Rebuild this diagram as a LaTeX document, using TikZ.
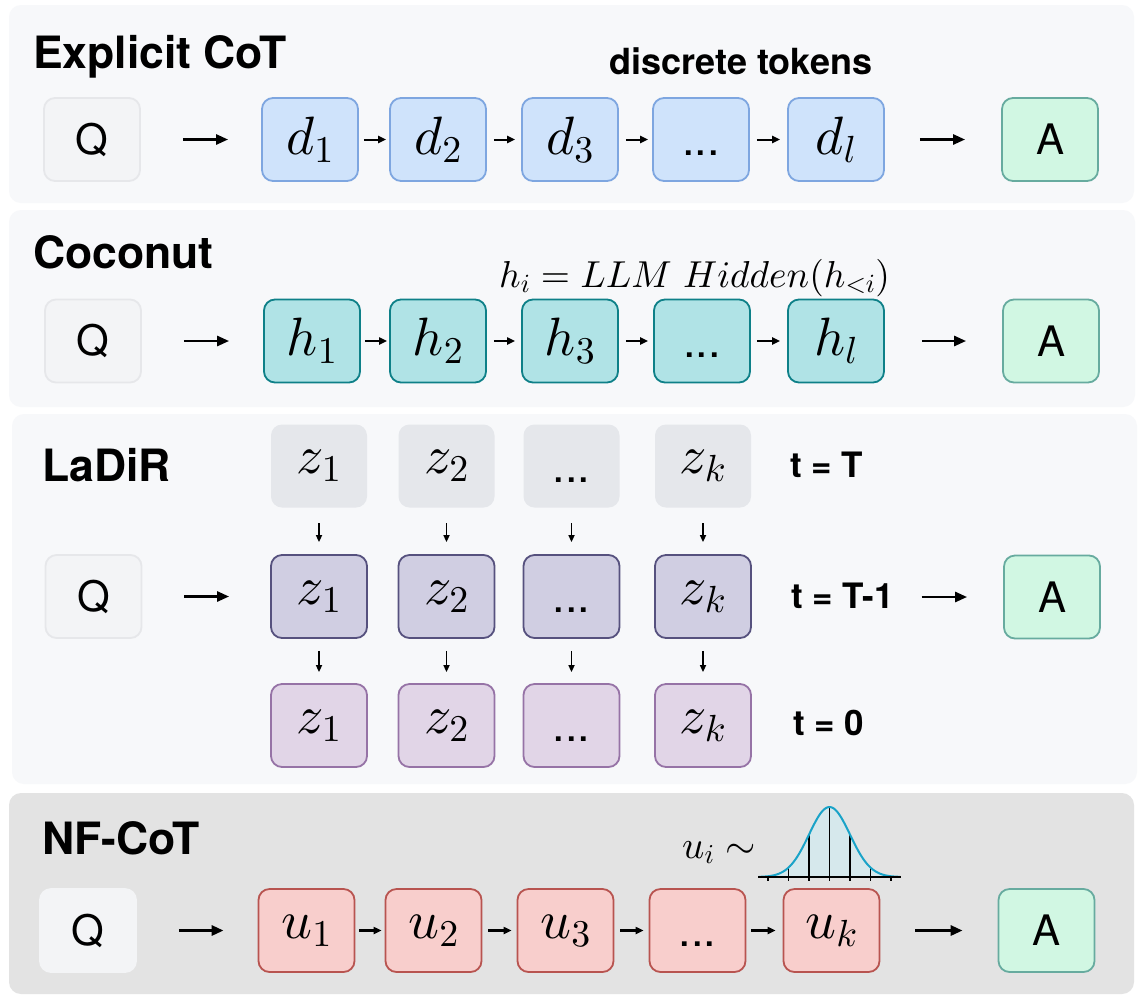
\RequirePackage{fix-cm}
\documentclass[tikz,border=0pt]{standalone}
\usepackage{fontspec}
\setsansfont{TeX Gyre Heros}
\usetikzlibrary{arrows.meta}
\DeclareFontShape{OML}{cmm}{m}{it}{<->cmmi10}{}
\DeclareFontShape{OMS}{cmsy}{m}{n}{<->cmsy10}{}
\DeclareFontShape{OT1}{cmr}{m}{n}{<->cmr10}{}
\definecolor{panelbg}{HTML}{F7F8FA}
\definecolor{panelnf}{HTML}{E3E3E3}
\definecolor{qfill}{HTML}{F3F4F6}
\definecolor{qdraw}{HTML}{E6E7EA}
\definecolor{afill}{HTML}{D1F7E3}
\definecolor{adraw}{HTML}{67AB9F}
\definecolor{dfill}{HTML}{CFE3FB}
\definecolor{ddraw}{HTML}{7EA6E0}
\definecolor{hfill}{HTML}{B0E3E6}
\definecolor{hdraw}{HTML}{0E8088}
\definecolor{ztfill}{HTML}{E5E7EB}
\definecolor{zmfill}{HTML}{D0CEE2}
\definecolor{zmdraw}{HTML}{56517E}
\definecolor{zbfill}{HTML}{E1D5E7}
\definecolor{zbdraw}{HTML}{9673A6}
\definecolor{ufill}{HTML}{F8CECC}
\definecolor{udraw}{HTML}{B85450}
\definecolor{gfill}{HTML}{D6E8EC}
\definecolor{gline}{HTML}{1AA3C8}
\newcommand{\elldots}{\vphantom{A}...}
\tikzset{
  bx/.style={rectangle, rounded corners=11pt, minimum width=96pt, minimum height=83pt,
    line width=1.8pt, inner sep=0pt, font=\fontsize{54}{60}\selectfont},
  qbox/.style={bx, fill=qfill, draw=qdraw, font=\sffamily\fontsize{42}{50}\selectfont},
  abox/.style={bx, fill=afill, draw=adraw, font=\sffamily\fontsize{42}{50}\selectfont},
  ell/.style={font=\sffamily\fontsize{45}{50}\selectfont},
  dbox/.style={bx, fill=dfill, draw=ddraw},
  hbox/.style={bx, fill=hfill, draw=hdraw},
  ztbox/.style={bx, fill=ztfill, draw=none},
  zmbox/.style={bx, fill=zmfill, draw=zmdraw},
  zbbox/.style={bx, fill=zbfill, draw=zbdraw},
  ubox/.style={bx, fill=ufill, draw=udraw},
  title/.style={anchor=base west, inner sep=0pt, font=\sffamily\bfseries\fontsize{44.5}{50}\selectfont},
  lbl/.style={anchor=base west, inner sep=0pt, font=\sffamily\bfseries\fontsize{35}{40}\selectfont},
  bigarr/.style={line width=2.6pt, -{Triangle[length=12pt,width=10pt]}},
  smarr/.style={line width=2pt, -{Triangle[length=8pt,width=7pt]}},
  dnarr/.style={line width=1.6pt, -{Triangle[length=7pt,width=6pt]}},
  panel/.style={rounded corners=12pt}
}
\begin{document}
\begin{tikzpicture}[x=1pt,y=-1pt]
\useasboundingbox (0,0) rectangle (1142,1002);
\fill[white] (0,0) rectangle (1142,1002);
% panels
\fill[panel, panelbg] (9,5) rectangle (1134,203);
\fill[panel, panelbg] (9,210) rectangle (1135,407);
\fill[panel, panelbg] (12,414) rectangle (1137,784);
\fill[panel, panelnf] (9,793) rectangle (1134,994);

% ---------- Explicit CoT ----------
\node[title] (t1) at (33,68) {Explicit CoT};
\node[lbl, font=\sffamily\bfseries\fontsize{36}{40}\selectfont] (dt) at (609,74) {discrete tokens};
\node[qbox] (q1) at (92,139.5) {Q};
\node[dbox] (d1) at (310,139.5) {$d_1$};
\node[dbox] (d2) at (438,139.5) {$d_2$};
\node[dbox] (d3) at (570,139.5) {$d_3$};
\node[dbox, ell] (d4) at (701,139.5) {\elldots};
\node[dbox] (dl) at (836,139.5) {$d_l$};
\node[abox] (a1) at (1050,139.5) {A};
\draw[bigarr, shorten <=42pt, shorten >=33pt] (q1) -- (d1);
\draw[smarr, shorten <=5pt, shorten >=3pt] (d1) -- (d2);
\draw[smarr, shorten <=7pt, shorten >=6pt] (d2) -- (d3);
\draw[smarr, shorten <=7pt, shorten >=4pt] (d3) -- (d4);
\draw[smarr, shorten <=7pt, shorten >=7pt] (d4) -- (dl);
\draw[bigarr, shorten <=35pt, shorten >=36pt] (dl) -- (a1);

% ---------- Coconut ----------
\node[title] (t2) at (33,268) {Coconut};
\node[anchor=base west, inner sep=0pt, font=\fontsize{37.5}{40}\selectfont] (hf) at (499,287) {$h_i = LLM\ Hidden(h_{<i})$};
\node[qbox] (q2) at (93,341) {Q};
\node[hbox] (h1) at (312,341) {$h_1$};
\node[hbox] (h2) at (438,341) {$h_2$};
\node[hbox] (h3) at (570,341) {$h_3$};
\node[hbox, ell] (h4) at (702,341) {\elldots};
\node[hbox] (hl) at (836,341) {$h_l$};
\node[abox] (a2) at (1051,341) {A};
\draw[bigarr, shorten <=42pt, shorten >=34pt] (q2) -- (h1);
\draw[smarr, shorten <=4pt, shorten >=2pt] (h1) -- (h2);
\draw[smarr, shorten <=7pt, shorten >=6pt] (h2) -- (h3);
\draw[smarr, shorten <=7pt, shorten >=5pt] (h3) -- (h4);
\draw[smarr, shorten <=6pt, shorten >=7pt] (h4) -- (hl);
\draw[bigarr, shorten <=37pt, shorten >=36pt] (hl) -- (a2);

% ---------- LaDiR ----------
\node[title] (t3) at (42,481) {LaDiR};
\node[ztbox] (zt1) at (319,466) {$z_1$};
\node[ztbox] (zt2) at (446.5,466) {$z_2$};
\node[ztbox, ell] (zt3) at (571.5,466) {\elldots};
\node[ztbox] (zt4) at (703,466) {$z_k$};
\node[zmbox] (zm1) at (319,596.5) {$z_1$};
\node[zmbox] (zm2) at (446.5,596.5) {$z_2$};
\node[zmbox, ell] (zm3) at (571.5,596.5) {\elldots};
\node[zmbox] (zm4) at (703,596.5) {$z_k$};
\node[zbbox] (zb1) at (319,725.5) {$z_1$};
\node[zbbox] (zb2) at (446.5,725.5) {$z_2$};
\node[zbbox, ell] (zb3) at (571.5,725.5) {\elldots};
\node[zbbox] (zb4) at (703,725.5) {$z_k$};
\foreach \c in {1,2,3,4} {
  \draw[dnarr, shorten <=15pt, shorten >=12pt] (zt\c) -- (zm\c);
  \draw[dnarr, shorten <=12pt, shorten >=11pt] (zm\c) -- (zb\c);
}
\node[lbl] (tT) at (790,477) {t = T};
\node[lbl] (tT1) at (791,608) {t = T-1};
\node[lbl] (t0) at (793,735) {t = 0};
\node[qbox] (q3) at (93.5,596.5) {Q};
\node[abox] (a3) at (1052,597) {A};
\draw[bigarr, shorten <=42pt, shorten >=41pt] (q3) -- (zm1);
\draw[bigarr, shorten <=28pt, shorten >=36pt] (tT1.east |- a3) -- (a3);

% ---------- NF-CoT ----------
\node[title] (t4) at (42,854) {NF-CoT};
% gaussian
\fill[gfill] (758.8,877) -- plot[domain=-3.45:3.45, samples=100] ({829.5+20.5*\x},{877-70*exp(-0.5*(\x)*(\x))}) -- (900.2,877) -- cycle;
\foreach \k in {-2,...,2}
  \draw[line width=1.3pt] ({829.5+20.5*(\k)},877) -- ({829.5+20.5*(\k)},{877-70*exp(-0.5*(\k)*(\k))});
\foreach \k in {-3,...,3}
  \draw[line width=1.3pt] ({829.5+20.5*(\k)},877) -- ({829.5+20.5*(\k)},881);
\draw[gline, line width=2pt] plot[domain=-3.45:3.45, samples=100] ({829.5+20.5*\x},{877-70*exp(-0.5*(\x)*(\x))});
\draw[line width=1.8pt] (758,877) -- (901,877);
\node[anchor=base west, inner sep=0pt, font=\fontsize{39}{44}\selectfont] (ui) at (682,858) {$u_i \sim$};

\node[qbox, draw=qfill] (q4) at (88,930.5) {Q};
\node[ubox] (u1) at (306.5,930.5) {$u_1$};
\node[ubox] (u2) at (433.5,930.5) {$u_2$};
\node[ubox] (u3) at (565.5,930.5) {$u_3$};
\node[ubox, ell] (u4) at (697.5,930.5) {\elldots};
\node[ubox] (uk) at (831.5,930.5) {$u_k$};
\node[abox] (a4) at (1046.5,930.5) {A};
\draw[bigarr, line width=2.9pt, shorten <=42pt, shorten >=34pt] (q4) -- (u1);
\draw[smarr, line width=2.5pt, shorten <=4pt, shorten >=3pt] (u1) -- (u2);
\draw[smarr, line width=2.5pt, shorten <=6pt, shorten >=5pt] (u2) -- (u3);
\draw[smarr, line width=2.5pt, shorten <=6pt, shorten >=5pt] (u3) -- (u4);
\draw[smarr, line width=2.5pt, shorten <=5pt, shorten >=7pt] (u4) -- (uk);
\draw[bigarr, line width=2.9pt, shorten <=35pt, shorten >=35pt] (uk) -- (a4);
\end{tikzpicture}
\end{document}
